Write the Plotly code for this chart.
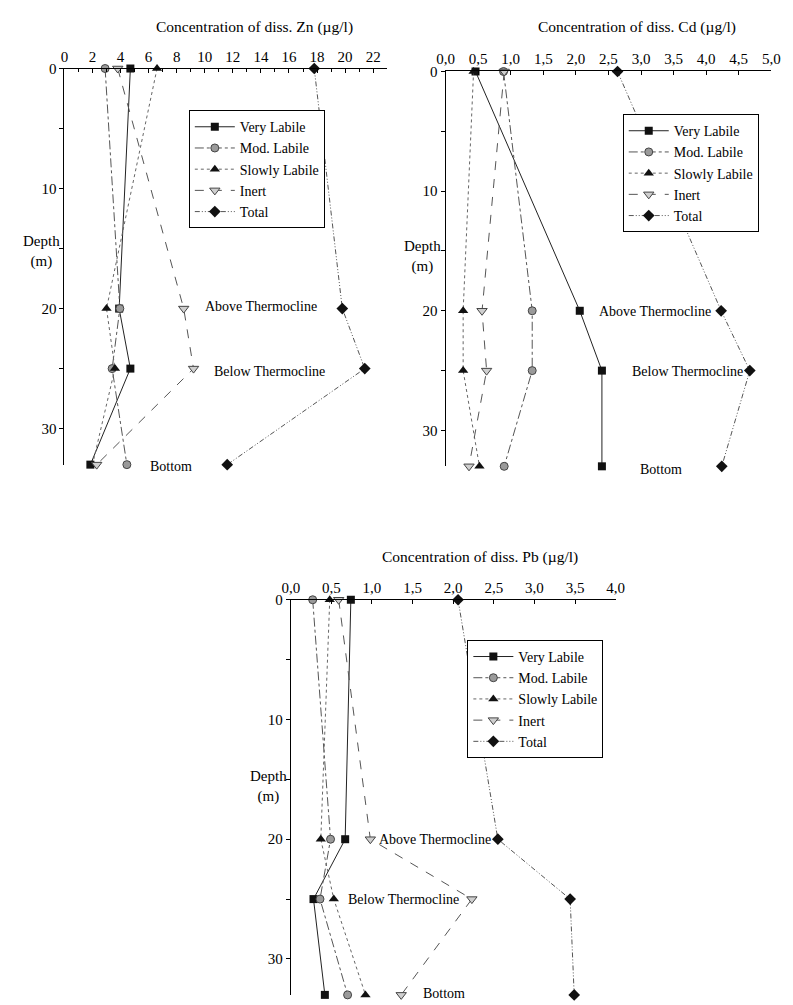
import plotly.graph_objects as go

# ---- data -------------------------------------------------------------
depth = [0, 20, 25, 33]
series_names = ["Very Labile", "Mod. Labile", "Slowly Labile", "Inert", "Total"]

zn_very = [4.7, 3.9, 4.7, 1.85]
zn_mod = [2.9, 3.95, 3.4, 4.45]
zn_slow = [6.6, 3.0, 3.6, 2.0]
zn_inert = [3.8, 8.5, 9.2, 2.3]
zn_total = [17.8, 19.8, 21.4, 11.6]

cd_very = [0.46, 2.06, 2.40, 2.40]
cd_mod = [0.89, 1.33, 1.33, 0.90]
cd_slow = [0.43, 0.27, 0.27, 0.52]
cd_inert = [0.90, 0.56, 0.63, 0.36]
cd_total = [2.64, 4.23, 4.67, 4.24]

pb_very = [0.74, 0.67, 0.28, 0.42]
pb_mod = [0.27, 0.49, 0.36, 0.70]
pb_slow = [0.48, 0.37, 0.53, 0.92]
pb_inert = [0.59, 0.98, 2.23, 1.36]
pb_total = [2.06, 2.55, 3.44, 3.49]

zn_tickvals = [0, 2, 4, 6, 8, 10, 12, 14, 16, 18, 20, 22]
zn_ticktext = ["0", "2", "4", "6", "8", "10", "12", "14", "16", "18", "20", "22"]
cd_tickvals = [0, 0.5, 1.0, 1.5, 2.0, 2.5, 3.0, 3.5, 4.0, 4.5, 5.0]
cd_ticktext = ["0,0", "0,5", "1,0", "1,5", "2,0", "2,5", "3,0", "3,5", "4,0", "4,5", "5,0"]
pb_tickvals = [0, 0.5, 1.0, 1.5, 2.0, 2.5, 3.0, 3.5, 4.0]
pb_ticktext = ["0,0", "0,5", "1,0", "1,5", "2,0", "2,5", "3,0", "3,5", "4,0"]
depth_tickvals = [0, 10, 20, 30]
depth_ticktext = ["0", "10", "20", "30"]

labels = ["Above Thermocline", "Below Thermocline", "Bottom"]
zn_label_x = [14.0, 14.6, 7.6]
zn_label_depth = [19.8, 25.2, 33.0]
cd_label_x = [3.21, 3.71, 3.30]
cd_label_depth = [20.1, 25.1, 33.0]
pb_label_x = [1.77, 1.39, 1.89]
pb_label_depth = [20.0, 25.0, 33.0]

# ---- page geometry helpers -------------------------------------------
W, H = 793, 1005
FONT = "Liberation Serif"


def fx(p):
    return p / W


def fy(p):
    return 1 - p / H


styles = [
    dict(line=dict(color="#222222", width=1, dash="solid"),
         marker=dict(symbol="square", size=8, color="#111111")),
    dict(line=dict(color="#555555", width=1, dash="dashdot"),
         marker=dict(symbol="circle", size=8, color="#9a9a9a",
                     line=dict(color="#444444", width=1))),
    dict(line=dict(color="#666666", width=1, dash="dot"),
         marker=dict(symbol="triangle-up", size=9, color="#111111")),
    dict(line=dict(color="#555555", width=1, dash="dash"),
         marker=dict(symbol="triangle-down", size=9, color="#cfcfcf",
                     line=dict(color="#444444", width=1))),
    dict(line=dict(color="#555555", width=1, dash="5px,2px,1px,2px,1px,2px"),
         marker=dict(symbol="diamond", size=9, color="#111111")),
]

panels = [
    dict(key="", metal="Zn", series=[zn_very, zn_mod, zn_slow, zn_inert, zn_total],
         xr=[0, 23], xpx=[56.7, 387.0], ypx=[61.0, 460.3],
         tv=zn_tickvals, tt=zn_ticktext, minor=1,
         lab_x=zn_label_x, lab_d=zn_label_depth, lab_shift=[0, 0, -2],
         title_xy=(251, 19), depth_xy=(54, 245), legend_xy=(184, 103)),
    dict(key="2", metal="Cd", series=[cd_very, cd_mod, cd_slow, cd_inert, cd_total],
         xr=[0, 5], xpx=[446.7, 780.0], ypx=[64.0, 462.0],
         tv=cd_tickvals, tt=cd_ticktext, minor=None,
         lab_x=cd_label_x, lab_d=cd_label_depth, lab_shift=[0, 0, -3],
         title_xy=(643, 19), depth_xy=(444, 250), legend_xy=(628, 107)),
    dict(key="3", metal="Pb", series=[pb_very, pb_mod, pb_slow, pb_inert, pb_total],
         xr=[0, 4], xpx=[288.3, 620.7], ypx=[596.5, 994.8],
         tv=pb_tickvals, tt=pb_ticktext, minor=None,
         lab_x=pb_label_x, lab_d=pb_label_depth, lab_shift=[0, 0, 1],
         title_xy=(482, 553), depth_xy=(286, 785), legend_xy=(469, 637)),
]

fig = go.Figure()
annotations = []
layout_axes = {}

for p in panels:
    k = p["key"]
    legend_id = "legend" + k
    for name, vals, st in zip(series_names, p["series"], styles):
        fig.add_trace(go.Scatter(
            x=vals, y=depth, name=name, mode="lines+markers",
            line=st["line"], marker=st["marker"],
            xaxis="x" + k, yaxis="y" + k, legend=legend_id,
            cliponaxis=False, hoverinfo="skip",
        ))

    xaxis = dict(
        domain=[fx(p["xpx"][0]), fx(p["xpx"][1])], range=p["xr"],
        side="top", anchor="y" + k, showline=True, linecolor="black",
        linewidth=1, ticks="inside", ticklen=4, tickcolor="black",
        tickmode="array", tickvals=p["tv"], ticktext=p["tt"],
        showgrid=False, zeroline=False,
        tickfont=dict(family=FONT, size=15, color="black"),
    )
    if p["minor"]:
        xaxis["minor"] = dict(dtick=p["minor"], tick0=0, ticks="inside",
                              ticklen=3, tickcolor="black", showgrid=False)
    yaxis = dict(
        domain=[fy(p["ypx"][1]), fy(p["ypx"][0])], range=[33, 0],
        anchor="x" + k, side="left", showline=True, linecolor="black",
        linewidth=1, ticks="outside", ticklen=4, tickcolor="black",
        tickmode="array", tickvals=depth_tickvals, ticktext=depth_ticktext,
        minor=dict(dtick=5, tick0=0, ticks="outside", ticklen=4,
                   tickcolor="black", showgrid=False),
        showgrid=False, zeroline=False,
        tickfont=dict(family=FONT, size=15, color="black"),
    )
    layout_axes["xaxis" + k] = xaxis
    layout_axes["yaxis" + k] = yaxis

    layout_axes[legend_id] = dict(
        x=fx(p["legend_xy"][0]), y=fy(p["legend_xy"][1]),
        xanchor="left", yanchor="top", bgcolor="white",
        bordercolor="black", borderwidth=1, itemwidth=40,
        font=dict(family=FONT, size=14, color="black"),
        tracegroupgap=0,
    )

    # thermocline / bottom labels
    for txt, lx, ld, sh in zip(labels, p["lab_x"], p["lab_d"], p["lab_shift"]):
        annotations.append(dict(
            x=lx, y=ld, xref="x" + k, yref="y" + k, text=txt,
            showarrow=False, xanchor="center", yanchor="middle", yshift=sh,
            font=dict(family=FONT, size=14, color="black"),
        ))

    # panel title
    annotations.append(dict(
        x=fx(p["title_xy"][0]), y=fy(p["title_xy"][1]), xref="paper",
        yref="paper", text=f"Concentration of diss. {p['metal']} (\u00b5g/l)",
        showarrow=False, xanchor="center", yanchor="middle",
        font=dict(family=FONT, size=15.5, color="black"),
    ))
    # depth axis title
    annotations.append(dict(
        x=fx(p["depth_xy"][0]), y=fy(p["depth_xy"][1]), xref="paper",
        yref="paper", text="Depth<br>(m)", showarrow=False,
        xanchor="right", yanchor="middle", align="center",
        font=dict(family=FONT, size=15, color="black"),
    ))

fig.update_layout(
    width=W, height=H, margin=dict(l=0, r=0, t=0, b=0),
    paper_bgcolor="white", plot_bgcolor="white",
    showlegend=True, annotations=annotations,
    **layout_axes,
)

fig.write_html("out.html")
